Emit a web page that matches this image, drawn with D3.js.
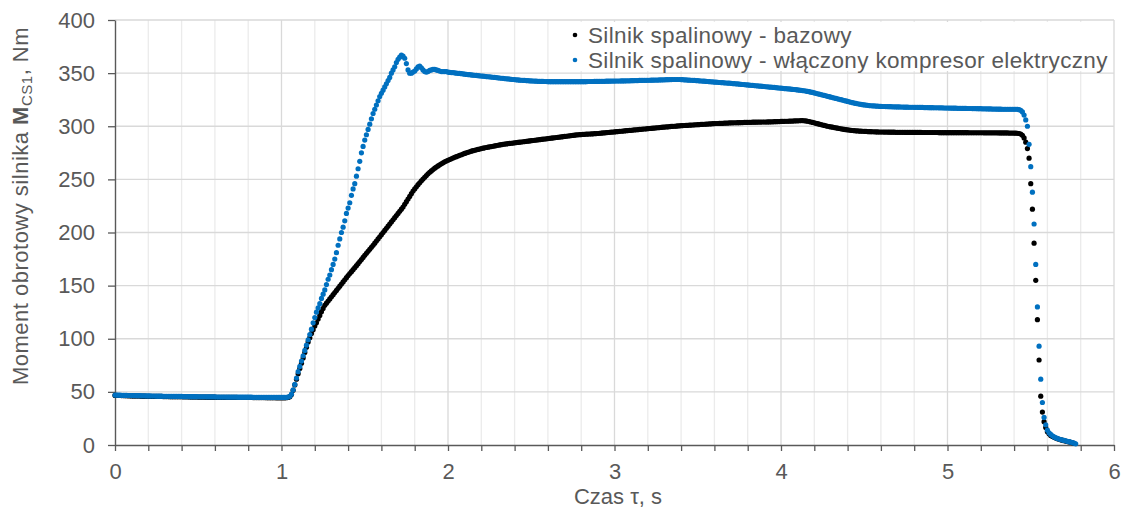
<!DOCTYPE html>
<html>
<head>
<meta charset="utf-8">
<script src="https://cdnjs.cloudflare.com/ajax/libs/d3/7.8.5/d3.min.js"></script>
<style>
  body { margin: 0; background: #fff; }
  text { font-family: "Liberation Sans", Arial, sans-serif; fill: #595959; }
</style>
</head>
<body>
<div id="chart"></div>
<script>
// sampling step of both records, s
const timeStep = 0.01;

// Silnik spalinowy - bazowy, Nm
const baseTorque = [
  46.7,46.7,46.6,46.6,46.5,46.5,46.4,46.4,46.3,46.3,
  46.2,46.2,46.2,46.1,46.1,46.1,46,46,46,45.9,
  45.9,45.9,45.8,45.8,45.8,45.7,45.7,45.7,45.7,45.6,
  45.6,45.6,45.6,45.5,45.5,45.5,45.5,45.4,45.4,45.4,
  45.4,45.3,45.3,45.3,45.3,45.2,45.2,45.2,45.2,45.2,
  45.1,45.1,45.1,45.1,45.1,45,45,45,45,45,
  45,44.9,44.9,44.9,44.9,44.9,44.9,44.8,44.8,44.8,
  44.8,44.8,44.8,44.8,44.7,44.7,44.7,44.7,44.7,44.7,
  44.7,44.7,44.7,44.6,44.6,44.6,44.6,44.6,44.6,44.6,
  44.6,44.5,44.5,44.5,44.5,44.5,44.5,44.4,44.4,44.4,
  44.4,44.4,44.4,44.5,44.8,45.5,47.5,51.5,56.5,62,
  67,72,77,82,87,92,97,101,105,108.5,
  112,115,118.5,122,125.5,128.5,131.5,133.5,135.5,137.5,
  139.5,141.5,143.5,145.5,147.5,149.5,151.5,153.5,155.5,157.5,
  159.5,161.3,163.1,165,166.9,168.8,170.7,172.6,174.5,176.5,
  178.5,180.4,182.3,184.2,186.1,188,190,192,194,196,
  198,200,202,204,206,208,210,212,214,216,
  218,220,222,224,226.5,229,231.5,234,236.5,239,
  241,243,245,246.8,248.6,250.3,252,253.6,255.2,256.7,
  258,259.3,260.5,261.6,262.7,263.7,264.7,265.6,266.5,267.3,
  268,268.7,269.4,270.1,270.8,271.4,272,272.6,273.2,273.8,
  274.4,275,275.5,276,276.5,277,277.4,277.8,278.2,278.6,
  279,279.4,279.7,280,280.3,280.6,280.9,281.2,281.5,281.8,
  282.1,282.4,282.7,283,283.2,283.4,283.6,283.8,284,284.2,
  284.4,284.6,284.8,285,285.2,285.4,285.6,285.8,286,286.2,
  286.4,286.6,286.8,287,287.2,287.4,287.6,287.8,288,288.2,
  288.4,288.6,288.8,289,289.2,289.4,289.6,289.8,290,290.2,
  290.4,290.6,290.8,291,291.2,291.4,291.6,291.8,292,292.1,
  292.2,292.3,292.4,292.5,292.6,292.7,292.8,292.9,293,293.1,
  293.2,293.4,293.5,293.7,293.8,294,294.1,294.3,294.4,294.6,
  294.7,294.9,295,295.2,295.3,295.5,295.6,295.8,295.9,296.1,
  296.2,296.4,296.5,296.7,296.8,297,297.1,297.3,297.4,297.6,
  297.7,297.9,298,298.2,298.3,298.5,298.6,298.8,298.9,299.1,
  299.2,299.4,299.5,299.6,299.8,299.9,300,300.1,300.3,300.4,
  300.5,300.6,300.7,300.8,300.9,301,301.1,301.2,301.3,301.4,
  301.5,301.6,301.7,301.8,301.9,302,302.1,302.2,302.3,302.4,
  302.5,302.6,302.6,302.7,302.8,302.8,302.9,303,303,303.1,
  303.2,303.2,303.3,303.3,303.4,303.4,303.5,303.5,303.6,303.6,
  303.7,303.7,303.7,303.8,303.8,303.8,303.9,303.9,303.9,304,
  304,304,304.1,304.1,304.2,304.2,304.3,304.3,304.4,304.4,
  304.5,304.5,304.6,304.7,304.7,304.8,304.9,304.9,305,305.1,
  305.1,305.2,305.3,305.3,305.2,305,304.7,304.4,304,303.6,
  303.2,302.8,302.4,302,301.6,301.2,300.8,300.4,300,299.7,
  299.4,299.1,298.8,298.5,298.2,297.9,297.6,297.3,297,296.8,
  296.6,296.4,296.2,296,295.8,295.7,295.6,295.5,295.4,295.3,
  295.2,295.1,295,294.9,294.9,294.8,294.8,294.7,294.7,294.6,
  294.6,294.6,294.5,294.5,294.5,294.4,294.4,294.4,294.4,294.3,
  294.3,294.3,294.3,294.3,294.3,294.2,294.2,294.2,294.2,294.2,
  294.2,294.2,294.2,294.2,294.2,294.1,294.1,294.1,294.1,294.1,
  294.1,294.1,294.1,294.1,294.1,294,294,294,294,294,
  294,294,294,294,294,294,294,294,294,294,
  294,294,294,293.9,293.9,293.9,293.9,293.9,293.9,293.9,
  293.9,293.9,293.8,293.8,293.8,293.8,293.8,293.8,293.8,293.8,
  293.8,293.7,293.7,293.7,293.7,293.7,293.7,293.6,293.6,293.6,
  293.6,293.5,293.4,293.2,292.6,291.5,289,285,279,270,
  246,222,190,155,118,80,46,31,22,16.5,
  12.5,10.5,9,8,7.2,6.5,5.9,5.4,4.9,4.5,
  4.1,3.7,3.3,2.9,2.5,2.1,1.6
];

// Silnik spalinowy - włączony kompresor elektryczny, Nm
const boostTorque = [
  47,47,46.9,46.9,46.8,46.8,46.7,46.7,46.6,46.6,
  46.5,46.5,46.5,46.4,46.4,46.4,46.3,46.3,46.3,46.2,
  46.2,46.2,46.1,46.1,46.1,46,46,46,46,45.9,
  45.9,45.9,45.9,45.8,45.8,45.8,45.8,45.7,45.7,45.7,
  45.7,45.6,45.6,45.6,45.6,45.5,45.5,45.5,45.5,45.5,
  45.4,45.4,45.4,45.4,45.4,45.3,45.3,45.3,45.3,45.3,
  45.3,45.2,45.2,45.2,45.2,45.2,45.2,45.1,45.1,45.1,
  45.1,45.1,45.1,45.1,45,45,45,45,45,45,
  45,45,45,44.9,44.9,44.9,44.9,44.9,44.9,44.9,
  44.9,44.8,44.8,44.8,44.8,44.8,44.8,44.8,44.8,44.8,
  44.8,44.8,44.8,44.9,45.1,45.8,48,52,57,63,
  69,74,79,84,89,94,99,104,109,115,
  120,125,129,133,138,142,146,151,156,160,
  165,170,175,181,188,194,200,205,211,218,
  223,228,235,241,246,253,260,267,275,281,
  287,292,297,302,307,312,316,320,324,328,
  331,334,337,340,343,346,350,353,356,360,
  363,365,367,366,364,359,353,350,350,351,
  352,354,356,356.5,355,353,351.5,351,351.5,352.5,
  353,353.5,353.5,353,352.5,352,351.5,351.5,351.5,351.5,
  351,350.7,350.5,350.5,350.3,350,349.8,349.7,349.5,349.3,
  349,348.8,348.6,348.5,348.3,348.1,348,347.8,347.6,347.5,
  347.3,347.1,347,346.8,346.6,346.5,346.3,346.1,346,345.8,
  345.6,345.4,345.2,345.1,344.9,344.7,344.5,344.4,344.2,344,
  343.9,343.7,343.6,343.4,343.3,343.2,343.1,343,342.9,342.8,
  342.7,342.6,342.5,342.4,342.3,342.3,342.2,342.2,342.1,342.1,
  342,342,342,342,342,342,342,342,342,342,
  342,342,342,342,342,342,342,342,342,342,
  342,342,342,342,342.1,342.1,342.1,342.1,342.2,342.2,
  342.2,342.3,342.3,342.3,342.3,342.4,342.4,342.4,342.5,342.5,
  342.5,342.6,342.6,342.6,342.7,342.7,342.7,342.8,342.8,342.8,
  342.9,342.9,343,343,343,343.1,343.1,343.2,343.2,343.2,
  343.3,343.3,343.4,343.4,343.5,343.5,343.5,343.6,343.6,343.7,
  343.7,343.8,343.8,343.9,343.9,344,344,344,344,344,
  343.9,343.8,343.7,343.6,343.5,343.4,343.3,343.2,343.1,343,
  342.9,342.8,342.6,342.5,342.4,342.2,342.1,342,341.9,341.7,
  341.6,341.5,341.4,341.2,341.1,341,340.9,340.7,340.6,340.5,
  340.4,340.2,340.1,339.9,339.8,339.6,339.5,339.3,339.2,339,
  338.9,338.7,338.6,338.4,338.3,338.1,338,337.8,337.7,337.5,
  337.4,337.2,337.1,336.9,336.8,336.6,336.5,336.3,336.2,336,
  335.8,335.7,335.5,335.4,335.2,335.1,334.9,334.7,334.6,334.4,
  334.2,334,333.8,333.6,333.4,333.1,332.8,332.5,332.1,331.8,
  331.4,331,330.6,330.2,329.8,329.4,329,328.6,328.2,327.8,
  327.4,327,326.6,326.2,325.8,325.4,325,324.6,324.2,323.8,
  323.4,323,322.6,322.2,321.8,321.5,321.2,320.9,320.6,320.3,
  320.1,319.9,319.7,319.5,319.3,319.2,319.1,319,318.9,318.8,
  318.7,318.6,318.6,318.5,318.5,318.4,318.4,318.3,318.3,318.2,
  318.2,318.2,318.1,318.1,318,318,318,317.9,317.9,317.9,
  317.8,317.8,317.8,317.7,317.7,317.7,317.6,317.6,317.6,317.5,
  317.5,317.5,317.4,317.4,317.4,317.3,317.3,317.3,317.2,317.2,
  317.2,317.1,317.1,317,317,317,316.9,316.9,316.9,316.8,
  316.8,316.8,316.7,316.7,316.7,316.6,316.6,316.6,316.5,316.5,
  316.5,316.4,316.4,316.4,316.3,316.3,316.3,316.2,316.2,316.2,
  316.1,316.1,316.1,316,316,316,316,316,316,316,
  316,316,315.9,315.6,315,313.5,310.5,306,300,283,
  262,238,208,170,130,93,62,40,26,19,
  14,11.5,10,8.7,7.6,6.8,6.2,5.6,5.1,4.7,
  4.3,3.9,3.5,3.1,2.7,2.3,1.7,1.1
];

const seriesNames = ['Silnik spalinowy - bazowy', 'Silnik spalinowy - włączony kompresor elektryczny'];
const seriesColors = ['#000000', '#0070c0'];
const xTicks = [0, 1, 2, 3, 4, 5, 6];
const yTicks = [0, 50, 100, 150, 200, 250, 300, 350, 400];

const width = 1127;
const height = 511;

const svg = d3.select('#chart')
    .append('svg')
    .attr('width', width)
    .attr('height', height);

const x = d3.scaleLinear().domain([0, 6]).range([115, 1114]);
const y = d3.scaleLinear().domain([0, 400]).range([445, 20]);

// minor divisions every 0.2 s
const xMinor = d3.range(0, 31).map(i => +(i * 0.2).toFixed(1));

// gridlines
const grid = svg.append('g');
grid.selectAll('.vgrid')
    .data(xMinor.slice(1))
    .enter().append('line')
    .attr('x1', d => x(d)).attr('x2', d => x(d))
    .attr('y1', y(0)).attr('y2', y(400))
    .attr('stroke', d => Number.isInteger(d) ? '#d9d9d9' : '#ebebeb')
    .attr('stroke-width', 1.3);
grid.selectAll('.hgrid')
    .data(yTicks.slice(1))
    .enter().append('line')
    .attr('x1', x(0)).attr('x2', x(6))
    .attr('y1', d => y(d)).attr('y2', d => y(d))
    .attr('stroke', '#d9d9d9')
    .attr('stroke-width', 1.3);

// legend background hides the gridlines behind it
svg.append('rect')
    .attr('x', 560).attr('y', 22)
    .attr('width', 552).attr('height', 49)
    .attr('fill', '#fff');

// axes
const xAxis = svg.append('g')
    .attr('transform', `translate(0,${y(0)})`)
    .call(d3.axisBottom(x).tickValues(xMinor).tickSize(6).tickSizeOuter(0).tickPadding(12)
        .tickFormat(d => Number.isInteger(d) && xTicks.includes(d) ? d : ''));

const yAxis = svg.append('g')
    .attr('transform', `translate(${x(0)},0)`)
    .call(d3.axisLeft(y).tickValues(yTicks).tickSize(7).tickSizeOuter(0).tickPadding(13));

[xAxis, yAxis].forEach(a => {
    a.select('.domain').attr('stroke', '#595959').attr('stroke-width', 1.4);
    a.selectAll('.tick line').attr('stroke', '#595959').attr('stroke-width', 1.3);
    a.selectAll('.tick text').attr('font-size', 22).attr('fill', '#595959')
        .style('font-family', '"Liberation Sans", Arial, sans-serif');
});

// data points, the second series drawn on top
[baseTorque, boostTorque].forEach((values, s) => {
    svg.append('g')
        .selectAll('circle')
        .data(values)
        .enter().append('circle')
        .attr('cx', (d, i) => x(i * timeStep))
        .attr('cy', d => y(d))
        .attr('r', 2.6)
        .attr('fill', seriesColors[s]);
});

// legend
const legend = svg.append('g')
    .selectAll('g')
    .data(seriesNames)
    .enter().append('g')
    .attr('transform', (d, i) => `translate(575, ${35 + i * 25})`);

legend.append('circle')
    .attr('r', 2.3)
    .attr('fill', (d, i) => seriesColors[i]);

legend.append('text')
    .attr('x', 13)
    .attr('y', 7.5)
    .attr('font-size', 22.5)
    .attr('letter-spacing', 0.35)
    .text(d => d);

// axis titles
svg.append('text')
    .attr('x', 618)
    .attr('y', 504)
    .attr('text-anchor', 'middle')
    .attr('font-size', 22)
    .text('Czas τ, s');

const yTitle = svg.append('text')
    .attr('transform', 'translate(28,206) rotate(-90)')
    .attr('text-anchor', 'middle')
    .attr('font-size', 22)
    .attr('letter-spacing', 0.5);
yTitle.append('tspan').text('Moment obrotowy silnika ');
yTitle.append('tspan').attr('font-weight', 'bold').text('M');
yTitle.append('tspan').attr('font-size', 15).attr('dy', 4).text('CS1');
yTitle.append('tspan').attr('dy', -4).text(', Nm');
</script>
</body>
</html>
